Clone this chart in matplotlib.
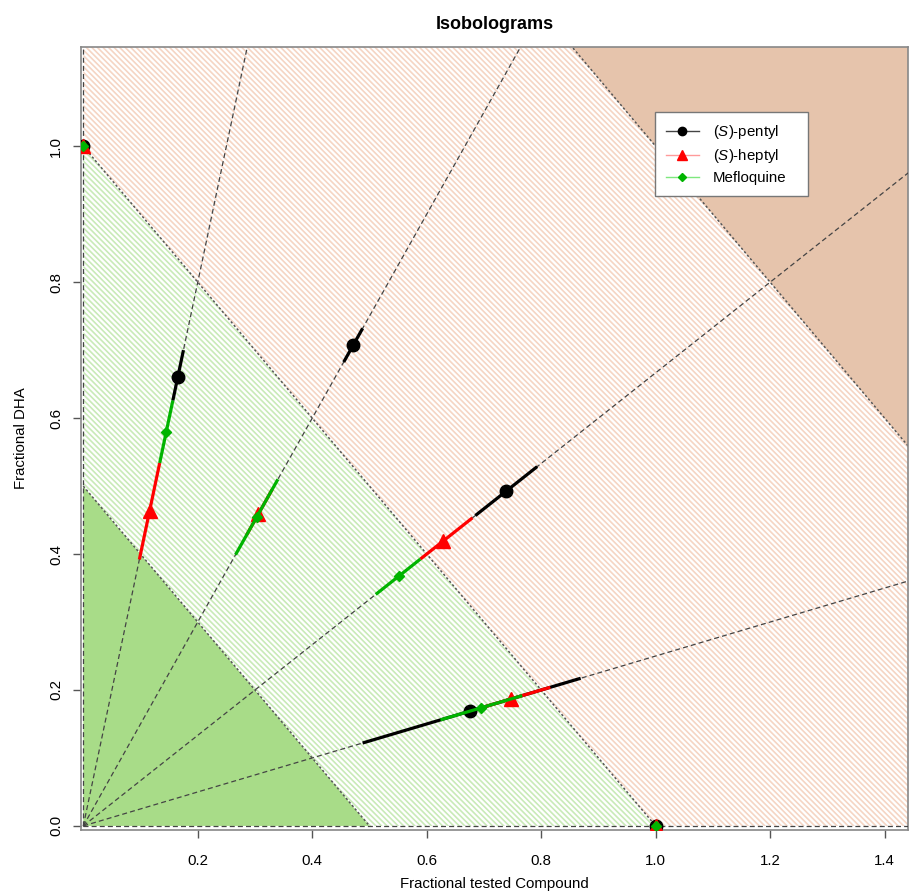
#!/usr/bin/env python3
"""
Isobologram plot: fractional DHA vs fractional tested compound
"""

import matplotlib
matplotlib.use("Agg")
import matplotlib.pyplot as plt
from matplotlib.patches import Polygon
from matplotlib.lines import Line2D
import numpy as np

plt.rcParams['font.family'] = ['Liberation Sans', 'DejaVu Sans']
plt.rcParams['mathtext.fontset'] = 'custom'
plt.rcParams['mathtext.rm'] = 'Liberation Sans'
plt.rcParams['mathtext.it'] = 'Liberation Sans:italic'
plt.rcParams['hatch.linewidth'] = 1.2

# fixed-ratio rays (DHA / compound)
ray_slopes = [4.0, 1.5, 2 / 3, 0.25]

# x position along each ray (centre, lower, upper) per compound
pentyl_x = [0.165, 0.472, 0.739, 0.676]
pentyl_lo = [0.1565, 0.455, 0.685, 0.488]
pentyl_hi = [0.175, 0.488, 0.793, 0.869]

heptyl_x = [0.116, 0.306, 0.629, 0.747]
heptyl_lo = [0.098, 0.285, 0.589, 0.700]
heptyl_hi = [0.1335, 0.330, 0.680, 0.816]

meflo_x = [0.145, 0.303, 0.551, 0.694]
meflo_lo = [0.1335, 0.266, 0.511, 0.624]
meflo_hi = [0.1565, 0.340, 0.589, 0.767]

# single-agent points
single_x = [0.0, 1.0]
single_y = [1.0, 0.0]

# isobole levels (x + y = c)
isobole_levels = [0.5, 1.0, 2.0]

fig = plt.figure(figsize=(9.09, 8.92), dpi=100)
ax = fig.add_axes([0.0891, 0.0695, 0.9099, 0.8778])
ax.set_xlim(-0.004, 1.441)
ax.set_ylim(-0.006, 1.146)

green_solid = '#a8dc88'
green_hatch = '#c9eab8'
salmon_hatch = '#f5d5c4'
brown = '#e6c4ac'

c1, c2, c3 = isobole_levels
big = 5.0
ax.add_patch(Polygon([(0, 0), (c1, 0), (0, c1)], closed=True,
                     facecolor=green_solid, edgecolor='none', zorder=1))
ax.add_patch(Polygon([(c1, 0), (c2, 0), (0, c2), (0, c1)], closed=True,
                     facecolor='white', edgecolor=green_hatch, lw=0,
                     hatch='\\' * 6, zorder=1))
ax.add_patch(Polygon([(c2, 0), (c3, 0), (0, c3), (0, c2)], closed=True,
                     facecolor='white', edgecolor=salmon_hatch, lw=0,
                     hatch='\\' * 6, zorder=1))
ax.add_patch(Polygon([(c3, 0), (big, 0), (big, big), (0, big), (0, c3)], closed=True,
                     facecolor=brown, edgecolor='none', zorder=1))

xs = np.array([0, big])
for c in isobole_levels:
    ax.plot([0, c], [c, 0], color='#555555', lw=1.1, ls=(0, (1.5, 1.5)), zorder=2)

# rays from origin
for s in ray_slopes:
    ax.plot(xs, s * xs, color='#444444', lw=0.9, ls=(0, (4, 2.5)), zorder=3)
ax.plot(xs, [0, 0], color='#444444', lw=0.9, ls=(0, (4, 2.5)), zorder=3)
ax.plot([0, 0], xs, color='#444444', lw=0.9, ls=(0, (4, 2.5)), zorder=3)

series = [
    ('black', 'o', 9, pentyl_x, pentyl_lo, pentyl_hi),
    ('#ff0000', '^', 10, heptyl_x, heptyl_lo, heptyl_hi),
    ('#00b400', 'D', 5.5, meflo_x, meflo_lo, meflo_hi),
]
z = 4
for col, mk, ms, cx, lo, hi in series:
    for s, xc, a, b in zip(ray_slopes, cx, lo, hi):
        ax.plot([a, b], [s * a, s * b], color=col, lw=2.3, solid_capstyle='butt', zorder=z)
        ax.plot(xc, s * xc, marker=mk, color=col, ms=ms, ls='none', zorder=z + 0.5)
    ax.plot(single_x, single_y, marker=mk, color=col, ms=ms, ls='none', zorder=z + 0.5)
    z += 1

for sp in ax.spines.values():
    sp.set_color('#888888')
    sp.set_linewidth(1.2)

ax.set_xticks([0.2, 0.4, 0.6, 0.8, 1.0, 1.2, 1.4])
ax.set_yticks([0.0, 0.2, 0.4, 0.6, 0.8, 1.0])
ax.set_xticklabels(['0.2', '0.4', '0.6', '0.8', '1.0', '1.2', '1.4'])
ax.set_yticklabels(['0.0', '0.2', '0.4', '0.6', '0.8', '1.0'], rotation=90, va='center')
ax.tick_params(axis='both', labelsize=10.8, length=6, width=1, color='#555555')
ax.tick_params(axis='x', pad=11)
ax.tick_params(axis='y', pad=7)

ax.set_xlabel('Fractional tested Compound', fontsize=10.8, labelpad=7)
ax.set_ylabel('Fractional DHA', fontsize=10.8, labelpad=15)
ax.set_title('Isobolograms', fontsize=13, fontweight='bold', pad=13)

handles = [
    Line2D([], [], color='#444444', marker='o', ms=6, mfc='black', mec='black', lw=1),
    Line2D([], [], color='#ff9a9a', marker='^', ms=7, mfc='red', mec='red', lw=1),
    Line2D([], [], color='#7ee87e', marker='D', ms=4, mfc='#00b400', mec='#00b400', lw=1),
]
labels = [r'($\it{S}$)-pentyl', r'($\it{S}$)-heptyl', 'Mefloquine']
leg = ax.legend(handles, labels, loc='upper left', bbox_to_anchor=(0.694, 0.0, 0.185, 0.917),
                mode='expand', borderaxespad=0, fontsize=10.8, frameon=True, fancybox=False,
                framealpha=1, facecolor='white',
                edgecolor='#777777', handlelength=2.2, borderpad=0.72,
                labelspacing=0.42, handletextpad=0.95)
leg.get_frame().set_linewidth(1.0)
leg.set_zorder(20)

plt.savefig('out.png', dpi=100)
plt.close()
